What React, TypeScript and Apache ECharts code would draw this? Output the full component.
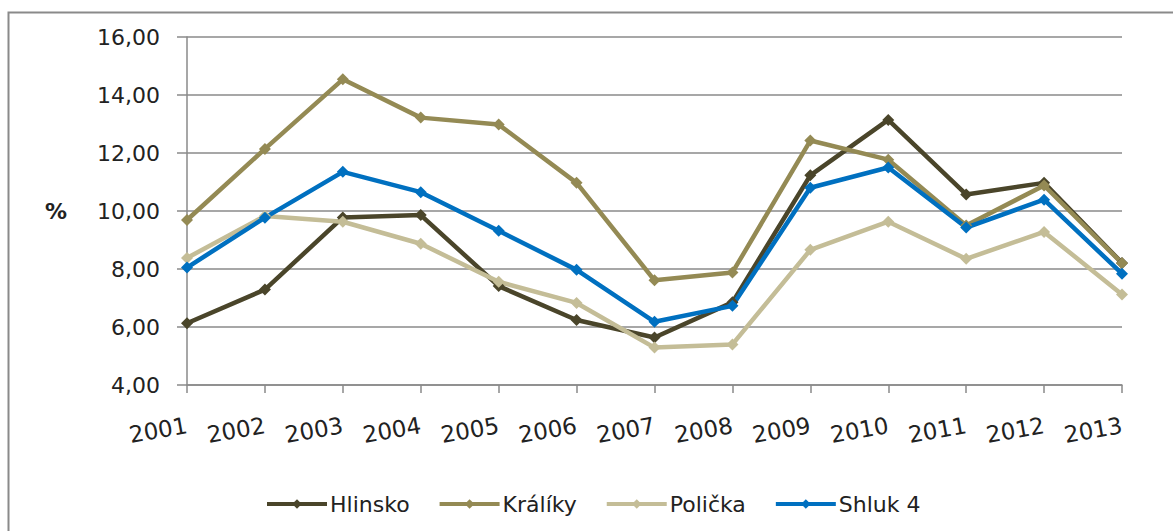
import React, { useEffect, useRef } from "react";
import * as echarts from "echarts";

const years = ["2001", "2002", "2003", "2004", "2005", "2006", "2007", "2008", "2009", "2010", "2011", "2012", "2013"];
const hlinsko = [6.13, 7.29, 9.78, 9.86, 7.41, 6.24, 5.64, 6.85, 11.23, 13.14, 10.57, 10.97, 8.21];
const kraliky = [9.69, 12.14, 14.54, 13.22, 12.98, 10.97, 7.61, 7.88, 12.43, 11.77, 9.5, 10.88, 8.2];
const policka = [8.38, 9.83, 9.63, 8.87, 7.56, 6.83, 5.29, 5.4, 8.66, 9.63, 8.35, 9.28, 7.12];
const shluk4 = [8.05, 9.77, 11.35, 10.65, 9.32, 7.97, 6.18, 6.73, 10.8, 11.5, 9.43, 10.39, 7.84];

const seriesNames = ["Hlinsko", "Králíky", "Polička", "Shluk 4"];
const seriesColors = ["#4A452A", "#948A54", "#C4BD97", "#0070C0"];
const seriesData = [hlinsko, kraliky, policka, shluk4];

const FONT = "DejaVu Sans";

export default function App() {
  const ref = useRef<HTMLDivElement>(null);
  useEffect(() => {
    if (!ref.current) return;
    const chart = echarts.init(ref.current, undefined, { renderer: "svg" });
    chart.setOption({
      animation: false,
      backgroundColor: "#ffffff",
      graphic: [
        {
          type: "rect",
          left: 6,
          top: 10,
          shape: { x: 0, y: 0, width: 1250, height: 600 },
          style: { fill: "none", stroke: "#8a8a8a", lineWidth: 2 },
          silent: true,
        },
      ],
      grid: { left: 187, right: 51, top: 37, bottom: 146 },
      legend: {
        left: 265,
        top: 493,
        padding: 0,
        itemWidth: 60,
        itemHeight: 12,
        itemGap: 28,
        lineStyle: { width: 4 },
        textStyle: { fontFamily: FONT, fontSize: 22, color: "#222", padding: [0, 0, 0, -2] },
        data: seriesNames,
      },
      xAxis: {
        type: "category",
        data: years,
        boundaryGap: false,
        axisLine: { lineStyle: { color: "#8a8a8a", width: 1.5 } },
        axisTick: { alignWithLabel: true, length: 8, lineStyle: { color: "#8a8a8a", width: 1.5 } },
        axisLabel: { rotate: 10, margin: 40, fontFamily: FONT, fontSize: 23, color: "#222" },
        splitLine: { show: false },
      },
      yAxis: {
        type: "value",
        min: 4,
        max: 16,
        interval: 2,
        name: "%",
        nameLocation: "middle",
        nameRotate: 0,
        nameGap: 120,
        nameTextStyle: { fontFamily: FONT, fontSize: 22, fontWeight: "bold", color: "#222" },
        axisLine: { show: true, lineStyle: { color: "#8a8a8a", width: 1.5 } },
        axisTick: { show: true, length: 10, lineStyle: { color: "#8a8a8a", width: 1.5 } },
        axisLabel: {
          margin: 27,
          fontFamily: FONT,
          fontSize: 22,
          color: "#222",
          formatter: (v: number) => v.toFixed(2).replace(".", ","),
        },
        splitLine: { lineStyle: { color: "#8a8a8a", width: 1.5 } },
      },
      series: seriesNames.map((name, i) => ({
        name,
        type: "line",
        data: seriesData[i],
        symbol: "diamond",
        symbolSize: 12,
        lineStyle: { width: 4.5, color: seriesColors[i] },
        itemStyle: { color: seriesColors[i] },
      })),
    });
    return () => chart.dispose();
  }, []);
  return <div ref={ref} style={{ position: "absolute", left: 0, top: 0, width: 1173, height: 531 }} />;
}
